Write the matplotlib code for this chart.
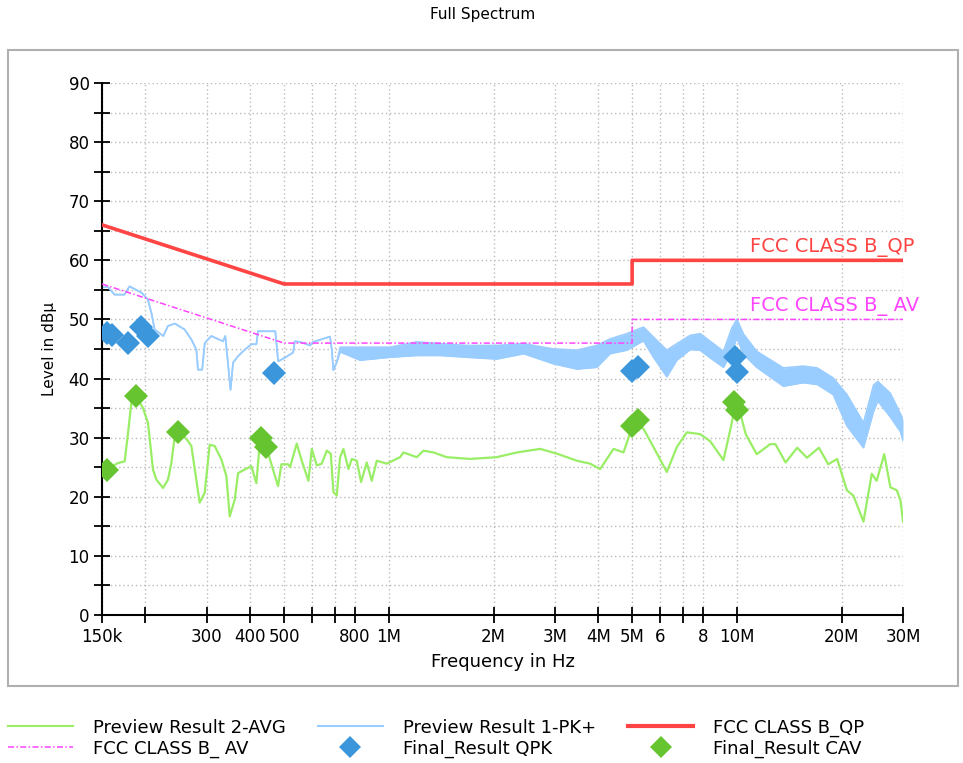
import numpy as np
import matplotlib
matplotlib.use("Agg")
import matplotlib.pyplot as plt
from matplotlib.lines import Line2D
from matplotlib.patches import Rectangle

# frequencies in MHz, levels in dBuV
pk_f = [0.150, 0.156, 0.163, 0.174, 0.180, 0.195, 0.203, 0.208, 0.2125, 0.225,
        0.232, 0.243, 0.259, 0.271, 0.280, 0.283, 0.291, 0.296, 0.309, 0.334,
        0.339, 0.345, 0.351, 0.357, 0.369, 0.386, 0.403, 0.4165, 0.421, 0.472,
        0.481, 0.502, 0.531, 0.537, 0.556, 0.594, 0.607, 0.678, 0.686, 0.693,
        0.709, 0.725, 0.827, 1.008, 1.203, 1.404, 1.675, 2.043, 2.44, 2.97,
        3.47, 3.96, 4.32, 4.83, 5.39, 5.76, 6.29, 6.72, 7.34, 7.84,
        8.38, 9.15, 9.68, 10.0, 10.45, 11.4, 13.6, 15.5, 17.0, 18.9,
        20.7, 23.1, 24.7, 25.4, 27.6, 29.5, 30.0]
pk_hi = [55.4, 55.5, 54.2, 54.2, 55.6, 54.5, 53.4, 51.1, 48.3, 47.2,
         48.9, 49.3, 48.3, 46.6, 44.9, 41.5, 41.5, 46.0, 47.2, 46.3,
         47.2, 42.7, 38.1, 42.7, 43.8, 44.9, 45.8, 45.8, 48.0, 48.0,
         42.9, 43.5, 44.4, 46.3, 46.2, 45.6, 46.2, 47.1, 44.8, 41.4,
         42.8, 45.3, 45.3, 45.3, 46.2, 45.9, 45.6, 45.6, 45.9, 45.0,
         44.8, 45.6, 46.7, 47.6, 48.7, 47.0, 44.8, 45.9, 47.3, 47.6,
         46.3, 44.6, 48.6, 50.0, 47.5, 44.6, 41.8, 42.1, 41.8, 40.1,
         37.3, 32.5, 38.9, 39.5, 37.5, 34.0, 33.0]
pk_lo = [55.4, 55.5, 54.2, 54.2, 55.6, 54.5, 53.4, 51.1, 48.3, 47.2,
         48.9, 49.3, 48.3, 46.6, 44.9, 41.5, 41.5, 46.0, 47.2, 46.3,
         47.2, 42.7, 38.1, 42.7, 43.8, 44.9, 45.8, 45.8, 48.0, 48.0,
         42.9, 43.5, 44.4, 46.3, 46.2, 45.6, 46.2, 47.1, 44.8, 41.4,
         42.8, 44.5, 43.1, 43.6, 43.9, 43.9, 43.6, 43.3, 44.2, 42.5,
         41.6, 41.9, 44.2, 44.8, 46.4, 43.6, 40.3, 43.1, 44.9, 44.8,
         43.5, 41.9, 44.6, 46.9, 44.1, 41.9, 38.7, 39.3, 39.0, 37.3,
         32.0, 28.3, 34.5, 36.2, 33.5, 31.0, 29.5]

avg_f = [0.150, 0.1543, 0.1667, 0.1743, 0.1782, 0.1821, 0.1882, 0.1967, 0.2033, 0.2102,
         0.2149, 0.2246, 0.2321, 0.2373, 0.2426, 0.2480, 0.2621, 0.2709, 0.2862, 0.2959,
         0.3058, 0.3161, 0.3304, 0.3415, 0.3491, 0.3609, 0.3689, 0.3855, 0.4029, 0.4165,
         0.4258, 0.4499, 0.4650, 0.4807, 0.4914, 0.5136, 0.5204, 0.5439, 0.5622, 0.5876,
         0.6007, 0.6209, 0.6418, 0.6633, 0.6811, 0.6933, 0.7087, 0.7245, 0.7407, 0.7656,
         0.7827, 0.8090, 0.8325, 0.8643, 0.8934, 0.9235, 0.9865, 1.0773, 1.1013, 1.2032,
         1.2575, 1.3433, 1.4673, 1.7121, 2.043, 2.332, 2.721, 3.038, 3.47, 3.787,
         4.047, 4.422, 4.722, 5.05, 5.39, 5.76, 6.29, 6.72, 7.18, 7.84,
         8.38, 9.15, 9.6, 9.82, 10.3, 10.6, 11.4, 12.46, 12.9, 13.8,
         14.9, 15.9, 17.2, 18.3, 19.4, 20.7, 21.6, 23.1, 24.4, 25.2,
         26.5, 27.6, 28.8, 29.5, 30.0]
avg_l = [24.3, 24.6, 25.7, 26.0, 30.8, 35.9, 37.0, 35.0, 32.5, 24.6,
         22.9, 21.5, 22.9, 25.7, 30.2, 31.1, 29.8, 28.6, 19.0, 20.7,
         28.8, 28.6, 26.3, 23.5, 16.7, 19.5, 24.0, 24.6, 25.2, 22.3,
         29.1, 27.4, 24.6, 21.8, 25.5, 25.5, 25.0, 29.0, 26.1, 22.7,
         28.1, 25.3, 25.6, 27.8, 27.3, 20.8, 20.2, 26.7, 28.1, 24.7,
         26.4, 26.1, 22.5, 25.8, 22.7, 26.1, 25.6, 26.7, 27.5, 26.7,
         27.8, 27.5, 26.7, 26.4, 26.7, 27.5, 28.1, 27.3, 26.1, 25.6,
         24.7, 28.1, 27.5, 32.5, 31.5, 28.4, 24.2, 28.4, 30.9, 30.6,
         29.4, 26.2, 31.7, 34.5, 33.4, 30.6, 27.2, 28.9, 28.9, 25.8,
         28.3, 26.6, 28.3, 25.5, 26.4, 21.1, 20.2, 15.8, 23.9, 22.7,
         27.2, 21.6, 21.1, 19.4, 15.8]

qp_f = [0.15, 0.5, 5.0, 5.0, 30.0]
qp_l = [66, 56, 56, 60, 60]
av_f = [0.15, 0.5, 5.0, 5.0, 30.0]
av_l = [56, 46, 46, 50, 50]

qpk_f = [0.155, 0.160, 0.178, 0.194, 0.203, 0.468, 5.0, 5.2, 9.87, 10.0]
qpk_l = [47.7, 47.4, 46.0, 48.7, 47.2, 40.9, 41.2, 42.0, 43.7, 41.1]
cav_f = [0.155, 0.188, 0.248, 0.429, 0.444, 5.0, 5.2, 9.8, 10.0]
cav_l = [24.5, 37.0, 31.0, 29.9, 28.4, 32.0, 33.0, 36.0, 34.7]

xticks = [0.15, 0.2, 0.3, 0.4, 0.5, 0.6, 0.7, 0.8, 1, 2, 3, 4, 5, 6, 7, 8, 10, 20, 30]
xlabels = ["150k", "", "300", "400", "500", "", "", "800", "1M", "2M", "3M", "4M",
           "5M", "6", "", "8", "10M", "20M", "30M"]

plt.rcParams['font.family'] = ['DejaVu Sans']
fig = plt.figure(figsize=(9.63, 7.63), dpi=100)
fig.patches.append(Rectangle((8/963, 1-686/763), 950/963, 636/763, transform=fig.transFigure,
                             fill=False, edgecolor='#b0b0b0', lw=1.5))
fig.text(483/963, 1-14/763, "Full Spectrum", ha='center', va='center', fontsize=11)

ax = fig.add_axes([102/963, 1-615/763, 801/963, 532/763])
ax.set_xscale('log')
ax.set_xlim(0.15, 30)
ax.set_ylim(0, 90)

c_pk = '#99ccff'
c_avg = '#99ee66'
ax.fill_between(pk_f, pk_lo, pk_hi, color=c_pk, lw=0, zorder=2)
ax.plot(pk_f, pk_hi, color=c_pk, lw=1.2, zorder=2)
ax.plot(pk_f, pk_lo, color=c_pk, lw=1.2, zorder=2)
ax.plot(avg_f, avg_l, color=c_avg, lw=1.6, zorder=2)
ax.plot(av_f, av_l, color='#ff44ff', lw=1.1, ls=(0, (4, 1.5, 1, 1.5)), zorder=3)
ax.plot(qp_f, qp_l, color='#ff4444', lw=2.6, zorder=3)
ax.plot(qpk_f, qpk_l, ls='none', marker='D', ms=12, color='#3b96db', mew=0, zorder=4)
ax.plot(cav_f, cav_l, ls='none', marker='D', ms=12, color='#66c431', mew=0, zorder=4)

ax.text(10.9, 60.5, "FCC CLASS B_QP", color='#ff4444', fontsize=14, va='bottom',
        ha='left', clip_on=False)
ax.text(10.9, 50.5, "FCC CLASS B_ AV", color='#ff44ff', fontsize=14, va='bottom',
        ha='left', clip_on=False)

ax.set_xticks(xticks)
ax.set_xticklabels(xlabels)
ax.xaxis.set_minor_locator(matplotlib.ticker.NullLocator())
ax.set_yticks(range(0, 91, 10))
ax.set_yticks(range(5, 90, 10), minor=True)
ax.tick_params(which='both', direction='inout', length=11, width=1.3, labelsize=12)
ax.tick_params(axis='x', pad=4)
ax.grid(True, which='both', color='#bbbbbb', ls=(0, (1, 2)), lw=1)
for s in ['top', 'right']:
    ax.spines[s].set_visible(False)
for s in ['left', 'bottom']:
    ax.spines[s].set_linewidth(1.5)
ax.set_xlabel("Frequency in Hz", fontsize=13, labelpad=5)
ax.set_ylabel("Level in dBµ", fontsize=11, labelpad=8)

handles = [
    Line2D([], [], color=c_avg, lw=1.5),
    Line2D([], [], color='#ff44ff', lw=1.1, ls=(0, (4, 1.5, 1, 1.5))),
    Line2D([], [], color=c_pk, lw=1.5),
    Line2D([], [], color='#3b96db', ls='none', marker='D', ms=11, mew=0),
    Line2D([], [], color='#ff4444', lw=3),
    Line2D([], [], color='#66c431', ls='none', marker='D', ms=11, mew=0),
]
labels = ["Preview Result 2-AVG", "FCC CLASS B_ AV", "Preview Result 1-PK+",
          "Final_Result QPK", "FCC CLASS B_QP", "Final_Result CAV"]
fig.legend(handles, labels, ncol=3, loc='upper left', bbox_to_anchor=(-0.005, 1-706/763),
           frameon=False, fontsize=13, handlelength=3.6, handletextpad=1.1,
           columnspacing=1.8, labelspacing=0.15, borderpad=0.2)

fig.savefig("out.png", dpi=100)
